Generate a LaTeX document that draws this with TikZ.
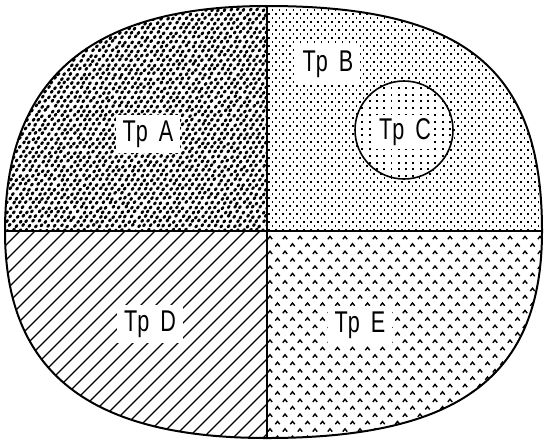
\documentclass[tikz,border=0pt]{standalone}
\usepackage{fontspec}
\newfontfamily\labfont[FakeStretch=0.72]{Liberation Sans}
\tikzset{
  lab/.style={fill=white, inner xsep=7pt, inner ysep=6pt, font=\labfont\fontsize{30}{30}\selectfont},
  rim/.style={line width=2pt, line join=round},
  divider/.style={line width=2pt},
  hatchline/.style={line width=1.2pt},
  caretmark/.style={line width=1.4pt, line join=miter}
}
\begin{document}
\begin{tikzpicture}[x=1pt,y=-1pt]
\useasboundingbox (0,0) rectangle (545,440);
\coordinate (O) at (267,231);
\coordinate (T) at (267,6);
\coordinate (L) at (5,231);
\coordinate (R) at (542,231);
\coordinate (B) at (267,438);
\pgfmathsetseed{7}
% top-left: dense blobs
\begin{scope}
\clip (O) -- (L) .. controls (5,80) and (89,6) .. (T) -- cycle;
\foreach \j in {0,...,50}{
  \foreach \i in {0,...,42}{
    \pgfmathsetmacro\px{4+\i*6.4+mod(\j,2)*3.2+0.9*rand}
    \pgfmathsetmacro\py{5+\j*4.6+0.9*rand}
    \fill[rotate around={50:(\px,\py)}] (\px,\py) ellipse (2.1 and 1.5);
  }
}
\end{scope}
% top-right: fine dots
\begin{scope}
\clip (O) -- (T) .. controls (465,6) and (542,69) .. (R) -- cycle;
\foreach \j in {0,...,57}{
  \foreach \i in {0,...,40}{
    \fill ({268+\i*7+mod(\j,2)*3.5},{5+\j*4}) rectangle +(1.8,1.8);
  }
}
\end{scope}
% circle Tp C
\fill[white] (404,130) circle (49);
\begin{scope}
\clip (404,130) circle (49);
\foreach \j in {0,...,15}{
  \foreach \i in {0,...,14}{
    \fill ({354+\i*7.3},{80+\j*6.8}) rectangle +(1.9,1.9);
  }
}
\end{scope}
% bottom-right: carets
\begin{scope}
\clip (O) -- (R) .. controls (542,376) and (460,438) .. (B) -- cycle;
\foreach \j in {0,...,28}{
  \foreach \i in {0,...,19}{
    \pgfmathsetmacro\cx{270+\i*15+mod(\j,2)*7.5}
    \pgfmathsetmacro\cy{238+\j*7.4}
    \draw[caretmark] (\cx-2.2,\cy+1.2) -- (\cx,\cy-1.6) -- (\cx+2.2,\cy+1.2);
  }
}
\end{scope}
% bottom-left: hatching
\begin{scope}
\clip (O) -- (B) .. controls (89,438) and (5,372) .. (L) -- cycle;
\foreach \c in {5,20,...,485}{
  \draw[hatchline] (\c,231) -- (\c-210,441);
}
\end{scope}
% labels
\node[lab] (la) at (148,134) {Tp\hspace{11pt}A};
\node[lab] (lb) at (328,64) {Tp\hspace{11pt}B};
\node[lab, inner xsep=3pt, inner ysep=3pt] (lc) at (405,132) {Tp\hspace{11pt}C};
\node[lab] (ld) at (150,324) {Tp\hspace{11pt}D};
\node[lab] (le) at (360,325) {Tp\hspace{11pt}E};
% outlines
\draw[line width=1.6pt] (404,130) circle (49);
\draw[divider] (T) -- (B);
\draw[divider] (L) -- (R);
\draw[rim] (T) .. controls (465,6) and (542,69) .. (R)
  .. controls (542,376) and (460,438) .. (B)
  .. controls (89,438) and (5,372) .. (L)
  .. controls (5,80) and (89,6) .. (T) -- cycle;
\end{tikzpicture}
\end{document}
